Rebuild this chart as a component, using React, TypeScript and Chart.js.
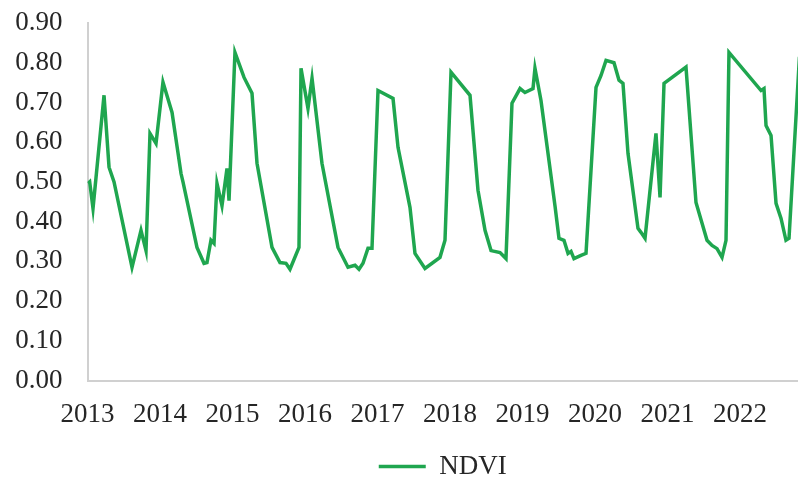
import React, { useEffect, useRef } from "react";
import { Chart, registerables } from "chart.js";

Chart.register(...registerables);

// Decimal-year time stamps of the NDVI observations
const times: number[] = [
  2013.007, 2013.03, 2013.076, 2013.228, 2013.297, 2013.366, 2013.614, 2013.738,
  2013.807, 2013.862, 2013.945, 2014.041, 2014.166, 2014.29, 2014.317, 2014.51,
  2014.607, 2014.648, 2014.703, 2014.745, 2014.786, 2014.855, 2014.924, 2014.952,
  2015.034, 2015.159, 2015.269, 2015.338, 2015.545, 2015.655, 2015.738, 2015.793,
  2015.917, 2015.945, 2016.041, 2016.097, 2016.234, 2016.455, 2016.593, 2016.69,
  2016.745, 2016.8, 2016.869, 2016.924, 2017.007, 2017.214, 2017.283, 2017.448,
  2017.517, 2017.655, 2017.862, 2017.931, 2018.014, 2018.276, 2018.386, 2018.483,
  2018.566, 2018.69, 2018.772, 2018.855, 2018.966, 2019.034, 2019.145, 2019.172,
  2019.255, 2019.448, 2019.503, 2019.572, 2019.628, 2019.669, 2019.71, 2019.807,
  2019.876, 2020.014, 2020.083, 2020.152, 2020.262, 2020.331, 2020.386, 2020.455,
  2020.593, 2020.634, 2020.69, 2020.841, 2020.897, 2020.952, 2021.255, 2021.393,
  2021.545, 2021.614, 2021.683, 2021.752, 2021.807, 2021.848, 2022.29, 2022.331,
  2022.359, 2022.428, 2022.497, 2022.566, 2022.634, 2022.676, 2022.82,
];

// NDVI values
const ndvi: number[] = [
  0.496, 0.5, 0.433, 0.718, 0.537, 0.5, 0.285, 0.378,
  0.327, 0.622, 0.597, 0.751, 0.675, 0.521, 0.5, 0.335,
  0.295, 0.297, 0.353, 0.345, 0.496, 0.44, 0.534, 0.453,
  0.826, 0.763, 0.723, 0.547, 0.335, 0.297, 0.295, 0.28,
  0.335, 0.786, 0.685, 0.761, 0.547, 0.335, 0.285, 0.29,
  0.28, 0.295, 0.333, 0.333, 0.73, 0.71, 0.587, 0.436,
  0.32, 0.282, 0.31, 0.353, 0.776, 0.718, 0.479, 0.378,
  0.327, 0.322, 0.307, 0.698, 0.735, 0.725, 0.735, 0.786,
  0.705, 0.44, 0.358, 0.353, 0.32, 0.325, 0.307, 0.315,
  0.32, 0.738, 0.768, 0.806, 0.8, 0.756, 0.748, 0.572,
  0.383, 0.373, 0.358, 0.622, 0.461, 0.748, 0.789, 0.448,
  0.353, 0.34, 0.332, 0.31, 0.353, 0.826, 0.73, 0.735,
  0.642, 0.617, 0.446, 0.408, 0.353, 0.358, 0.815,
];

const yearTicks: number[] = [2013, 2014, 2015, 2016, 2017, 2018, 2019, 2020, 2021, 2022];
const yTicks: number[] = [0, 0.1, 0.2, 0.3, 0.4, 0.5, 0.6, 0.7, 0.8, 0.9];
const seriesLabel = "NDVI";

const FONT = "'Liberation Serif', 'Times New Roman', serif";
const TEXT = "#262626";
const GREEN = "#1fa64f";

export default function App() {
  const ref = useRef<HTMLCanvasElement | null>(null);

  useEffect(() => {
    if (!ref.current) return;
    const chart = new Chart(ref.current, {
      type: "line",
      data: {
        datasets: [
          {
            label: seriesLabel,
            data: times.map((t, i) => ({ x: t, y: ndvi[i] })),
            borderColor: GREEN,
            backgroundColor: GREEN,
            borderWidth: 3.5,
            pointRadius: 0,
            tension: 0,
            fill: false,
          },
        ],
      },
      options: {
        responsive: false,
        animation: false,
        layout: { padding: { left: 15, right: 0, top: 23, bottom: -11 } },
        plugins: {
          tooltip: { enabled: false },
          legend: {
            position: "bottom",
            fullSize: false,
            labels: {
              usePointStyle: true,
              pointStyle: "line",
              pointStyleWidth: 47,
              color: TEXT,
              font: { family: FONT, size: 27 },
              padding: 0,
            },
          },
        },
        scales: {
          x: {
            type: "linear",
            min: 2013,
            max: 2022.8,
            afterBuildTicks: (axis: any) => {
              axis.ticks = yearTicks.map((v) => ({ value: v }));
            },
            afterFit: (axis: any) => {
              axis.height = 72.5;
              axis.paddingLeft = 0;
              axis.paddingRight = 0;
            },
            grid: { display: false, drawTicks: false },
            border: { display: true, color: "#d0d0d0", width: 2 },
            ticks: {
              color: TEXT,
              font: { family: FONT, size: 27 },
              padding: 18,
              maxRotation: 0,
              autoSkip: false,
              callback: (v: any) => String(v),
            },
          },
          y: {
            min: 0,
            max: 0.9,
            afterBuildTicks: (axis: any) => {
              axis.ticks = yTicks.map((v) => ({ value: v }));
            },
            afterFit: (axis: any) => {
              axis.width = 72.5;
              axis.paddingTop = 0;
              axis.paddingBottom = 0;
            },
            grid: { display: false, drawTicks: false },
            border: { display: true, color: "#d0d0d0", width: 2 },
            ticks: {
              color: TEXT,
              font: { family: FONT, size: 27 },
              padding: 25,
              callback: (v: any) => Number(v).toFixed(2),
            },
          },
        },
      },
    });
    return () => chart.destroy();
  }, []);

  return (
    <div style={{ position: "absolute", left: 0, top: 0, width: 798, height: 479, background: "#fff" }}>
      <canvas ref={ref} width={798} height={479} style={{ display: "block" }} />
    </div>
  );
}
